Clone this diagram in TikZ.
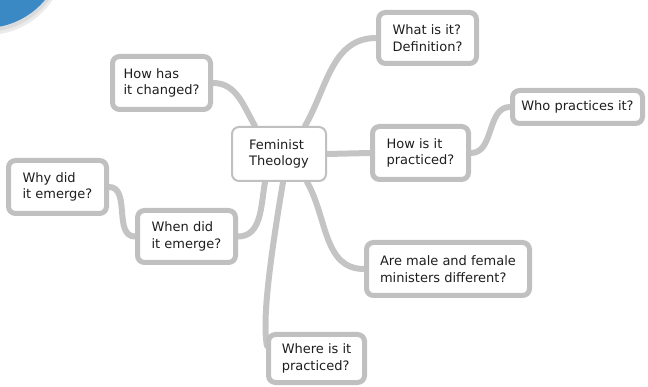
\documentclass[tikz,border=0pt]{standalone}
\usepackage{fontspec}
\setmainfont{DejaVu Sans}
\usetikzlibrary{backgrounds,calc}
\definecolor{boxgrey}{HTML}{C0C0C0}
\definecolor{linegrey}{HTML}{C4C4C4}
\definecolor{txt}{HTML}{1E1E1E}
\definecolor{blob}{HTML}{3A88C4}
\tikzset{
  leaf/.style={draw=boxgrey, line width=5pt, fill=white, rounded corners=7pt, align=left,
    text=txt, font=\fontsize{13}{16.5}\selectfont, inner sep=0pt},
  hub/.style={draw=boxgrey, line width=2pt, fill=white, rounded corners=7pt, align=left,
    text=txt, font=\fontsize{13}{16.5}\selectfont, inner sep=0pt},
  link/.style={draw=linegrey, line width=6pt, line cap=round}
}
\begin{document}
\begin{tikzpicture}[x=1pt,y=-1pt]
\useasboundingbox (0,0) rectangle (648,387);
\fill[black!8] (-13,-44) circle (79);
\fill[black!14] (-14,-46) circle (78);
\fill[blob] (-15,-50) circle (78);
\node[hub, minimum width=94, minimum height=54] (c) at (279,154) {Feminist\\Theology};
\node[leaf, minimum width=98, minimum height=51] (what) at (427.5,38) {What is it?\\Definition?};
\node[leaf, minimum width=130, minimum height=33] (who) at (577.5,107) {Who practices it?};
\node[leaf, minimum width=96, minimum height=53] (how) at (420.5,153) {How is it\\practiced?};
\node[leaf, minimum width=163, minimum height=53] (are) at (448,269) {Are male and female\\ministers different?};
\node[leaf, minimum width=96, minimum height=48] (where) at (316.5,358.5) {Where is it\\practiced?};
\node[leaf, minimum width=98, minimum height=52] (when) at (186.5,236.5) {When did\\it emerge?};
\node[leaf, minimum width=98, minimum height=53] (why) at (57.5,187) {Why did\\it emerge?};
\node[leaf, minimum width=98, minimum height=53] (changed) at (161.5,83) {How has\\it changed?};
\coordinate (wherein) at ($(where.north west)+(1,14)$);
\begin{pgfonlayer}{background}
\draw[link] ($(c.north)+(26,0)$) to[out=60,in=180] (what.west);
\draw[link] ($(c.north)+(-24,0)$) to[out=120,in=0] (changed.east);
\draw[link] (c.east) -- (how.west);
\draw[link] (how.east) to[out=0,in=180] (who.west);
\draw[link] ($(c.south)+(-14,0)$) to[out=-100,in=0] (when.east);
\draw[link] (when.west) to[out=180,in=0] (why.east);
\draw[link] ($(c.south)+(4,0)$) .. controls (270,260) and (262,320) .. (wherein);
\draw[link] ($(c.south)+(28,0)$) to[out=-60,in=180] (are.west);
\end{pgfonlayer}
\end{tikzpicture}
\end{document}
